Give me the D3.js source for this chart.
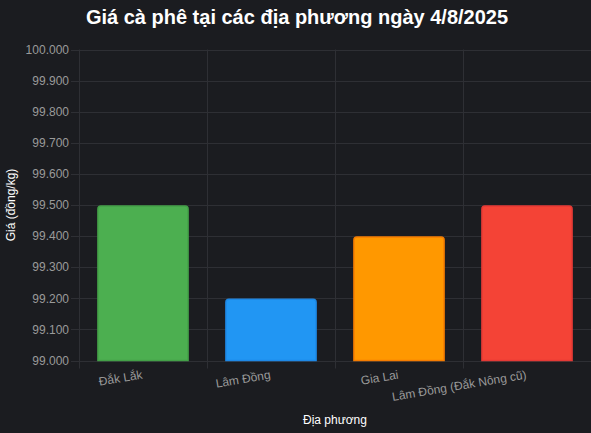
<!DOCTYPE html>
<html><head><meta charset="utf-8">
<script src="https://cdn.jsdelivr.net/npm/d3@7/dist/d3.min.js"></script>
<style>
html,body{margin:0;padding:0;background:#1b1c20;}
svg{display:block;font-family:"Liberation Sans",Arial,Helvetica,sans-serif;}
</style></head><body>
<svg id="c" width="591" height="433"></svg>
<script>
const categories = ["Đắk Lắk", "Lâm Đồng", "Gia Lai", "Lâm Đồng (Đắk Nông cũ)"];
const prices = [99500, 99200, 99400, 99500];
const barColors = ["#4CAF50", "#2196F3", "#FF9800", "#F44336"];
const borderColors = ["#43A047", "#1E88E5", "#F57C00", "#E53935"];
const yTicks = [99000, 99100, 99200, 99300, 99400, 99500, 99600, 99700, 99800, 99900, 100000];
const title = "Giá cà phê tại các địa phương ngày 4/8/2025";
const yTitle = "Giá (đồng/kg)";
const xTitle = "Địa phương";

const svg = d3.select("#c");
const W = 591, H = 433;
const m = {left: 79, right: 0, top: 49.5, bottom: 72.5};
const x = d3.scaleBand().domain(categories).range([m.left, W - m.right]).paddingInner(0.28).paddingOuter(0.14);
const y = d3.scaleLinear().domain([99000, 100000]).range([H - m.bottom, m.top]);
const fmt = v => d3.format(",.0f")(v).replace(/,/g, ".");
const grid = "#2e2f34";
const tickCol = "#9a9a9a";

svg.append("rect").attr("width", W).attr("height", H).attr("fill", "#1b1c20");

// horizontal grid
const gy = svg.append("g");
gy.selectAll("line").data(yTicks).join("line")
  .attr("x1", m.left - 8).attr("x2", W)
  .attr("y1", d => Math.round(y(d)) + 0.5).attr("y2", d => Math.round(y(d)) + 0.5)
  .attr("stroke", grid).attr("stroke-width", 1);
// vertical grid (category boundaries)
const step = x.step();
const bounds = d3.range(categories.length).map(i => m.left + i * step);
svg.append("g").selectAll("line").data(bounds).join("line")
  .attr("x1", d => Math.round(d) + 0.5).attr("x2", d => Math.round(d) + 0.5)
  .attr("y1", m.top).attr("y2", H - m.bottom + 8)
  .attr("stroke", grid).attr("stroke-width", 1);

// y tick labels
svg.append("g").selectAll("text").data(yTicks).join("text")
  .attr("x", 69).attr("y", d => y(d)).attr("dy", "0.35em")
  .attr("text-anchor", "end").attr("fill", tickCol).attr("font-size", 12)
  .text(fmt);

// bars with rounded top
function barPath(x0, w, yTop, yBot, r) {
  return `M${x0},${yBot}V${yTop + r}Q${x0},${yTop} ${x0 + r},${yTop}H${x0 + w - r}Q${x0 + w},${yTop} ${x0 + w},${yTop + r}V${yBot}Z`;
}
svg.append("g").selectAll("path").data(categories).join("path")
  .attr("d", (c, i) => barPath(x(c) + 1, x.bandwidth() - 2, y(prices[i]) + 1, y(99000), 3))
  .attr("fill", (c, i) => barColors[i])
  .attr("stroke", (c, i) => borderColors[i]).attr("stroke-width", 1.5);

// x tick labels rotated
svg.append("g").selectAll("text").data(categories).join("text")
  .attr("transform", c => `translate(${x(c) + x.bandwidth() / 2},${H - m.bottom + 18}) rotate(-9.5)`)
  .attr("text-anchor", "end").attr("fill", tickCol).attr("font-size", 12)
  .text(c => c);

// titles
svg.append("text").attr("x", 297).attr("y", 24).attr("text-anchor", "middle")
  .attr("fill", "#ffffff").attr("font-size", 20).attr("font-weight", "bold").text(title);
svg.append("text").attr("transform", `translate(15,${(m.top + H - m.bottom) / 2}) rotate(-90)`)
  .attr("text-anchor", "middle").attr("fill", "#ffffff").attr("font-size", 12).text(yTitle);
svg.append("text").attr("x", (m.left + W) / 2).attr("y", 424).attr("text-anchor", "middle")
  .attr("fill", "#ffffff").attr("font-size", 12).text(xTitle);
</script>
</body></html>
